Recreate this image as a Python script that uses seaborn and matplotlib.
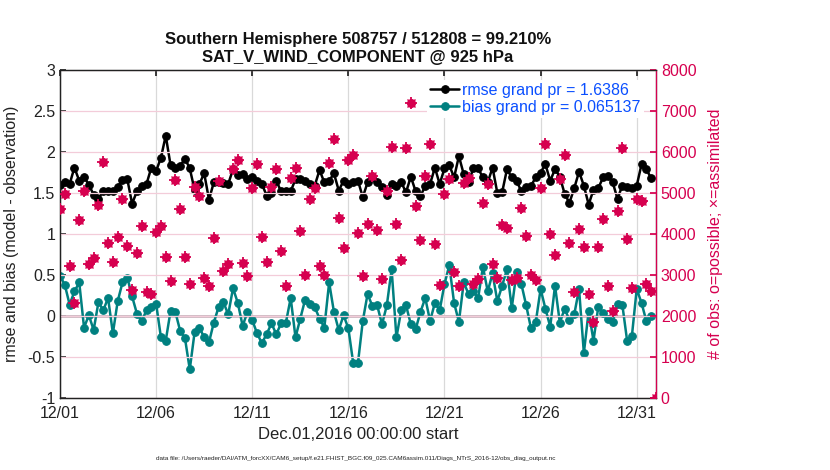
import numpy as np
import pandas as pd
import seaborn as sns
import matplotlib
matplotlib.use("Agg")
import matplotlib.pyplot as plt
import matplotlib.dates as mdates

# 6-hourly values
rmse = [1.60, 1.63, 1.61, 1.81, 1.65, 1.70, 1.60, 1.48, 1.43, 1.53, 1.52, 1.52, 1.57, 1.66, 1.67, 1.37,
        1.52, 1.58, 1.61, 1.81, 1.77, 1.93, 2.20, 1.84, 1.81, 1.83, 1.92, 1.80, 1.54, 1.61, 1.74, 1.42,
        1.63, 1.63, 1.62, 1.61, 1.79, 1.72, 1.73, 1.67, 1.70, 1.65, 1.61, 1.47, 1.50, 1.65, 1.52, 1.52,
        1.52, 1.67, 1.67, 1.65, 1.61, 1.59, 1.78, 1.63, 1.65, 1.74, 1.53, 1.65, 1.61, 1.63, 1.65, 1.45,
        1.63, 1.69, 1.63, 1.57, 1.48, 1.61, 1.59, 1.63, 1.51, 1.70, 1.52, 1.46, 1.59, 1.61, 1.81, 1.61,
        1.80, 1.84, 1.69, 1.95, 1.73, 1.63, 1.80, 1.80, 1.69, 1.63, 1.81, 1.50, 1.51, 1.79, 1.69, 1.65,
        1.52, 1.57, 1.59, 1.69, 1.75, 1.85, 1.65, 1.79, 1.70, 1.49, 1.38, 1.56, 1.76, 1.59, 1.36, 1.54,
        1.56, 1.69, 1.71, 1.63, 1.43, 1.59, 1.57, 1.56, 1.59, 1.85, 1.79, 1.68]
bias = [0.49, 0.38, 0.14, 0.30, 0.41, -0.14, 0.01, -0.17, 0.17, 0.07, 0.22, -0.21, 0.18, 0.41, 0.47, 0.24,
        0.03, -0.06, 0.07, 0.11, 0.15, -0.26, -0.30, 0.06, 0.05, -0.18, -0.27, -0.65, -0.20, -0.14, -0.26, -0.32,
        -0.08, 0.11, 0.17, 0.02, 0.34, 0.16, -0.12, 0.05, -0.05, -0.21, -0.33, -0.22, -0.09, -0.22, -0.09, -0.08,
        0.22, -0.26, -0.03, 0.20, 0.15, 0.11, -0.03, -0.14, 0.41, 0.05, -0.17, 0.01, -0.15, -0.57, -0.57, -0.06,
        0.27, 0.12, 0.13, -0.10, 0.13, 0.57, -0.26, 0.07, 0.13, -0.10, -0.16, 0.05, 0.22, -0.06, 0.16, 0.07,
        0.39, 0.62, 0.16, -0.07, 0.41, 0.27, 0.30, 0.22, 0.60, 0.30, 0.52, 0.18, 0.37, 0.57, 0.10, 0.54,
        0.39, 0.13, -0.15, -0.07, 0.33, 0.09, -0.13, 0.37, -0.08, 0.09, -0.05, 0.02, 0.33, -0.45, 0.06, -0.30,
        0.11, 0.04, -0.03, -0.07, 0.15, 0.14, -0.30, -0.24, 0.33, 0.16, -0.06, 0.00]
nobs = [4602, 4984, 3220, 2309, 4333, 5049, 3260, 3407, 4699, 5748, 3772, 3317, 3935, 4846, 3707, 2626,
        3528, 4203, 2585, 2528, 4057, 4203, 3447, 2854, 5317, 4618, 3447, 2789, 5146, 4927, 2919, 2732,
        3911, 5293, 3098, 3260, 5577, 5797, 3301, 2976, 5114, 5715, 3935, 3325, 5154, 5577, 3585, 2732,
        5358, 5602, 4073, 3000, 4846, 5130, 3220, 3000, 5740, 6309, 4382, 3667, 5805, 5927, 4033, 2976,
        4252, 5415, 4089, 2894, 5049, 6130, 4236, 3358, 6106, 7203, 4683, 3846, 5415, 6203, 3764, 2756,
        4967, 5333, 3081, 2732, 5252, 5374, 2772, 2894, 4764, 5211, 3260, 2935, 4220, 4154, 2878, 2919,
        4642, 3951, 3000, 2878, 5114, 6203, 3992, 3480, 5333, 5927, 3789, 2593, 4114, 3683, 2528, 1854,
        3683, 4358, 2732, 2122, 4561, 6106, 3870, 2691, 4846, 4805, 2789, 2610, 0]

rmse_grand = 1.6386
bias_grand = 0.065137
title_lines = ["Southern Hemisphere 508757 / 512808 = 99.210%", "SAT_V_WIND_COMPONENT @ 925 hPa"]
tick_days = ["2016-12-01", "2016-12-06", "2016-12-11", "2016-12-16", "2016-12-21", "2016-12-26", "2016-12-31"]
data_file = ("data file: /Users/raeder/DAI/ATM_forcXX/CAM6_setup/f.e21.FHIST_BGC.f09_025.CAM6assim.011/"
             "Diags_NTrS_2016-12/obs_diag_output.nc")

MAGENTA = "#d6004f"
TEAL = "#008080"
BLUE = "#0a4fff"

times = pd.date_range("2016-12-01", periods=len(rmse), freq="6h")
obs_times = pd.date_range("2016-12-01", periods=len(nobs), freq="6h")
df = pd.DataFrame({"time": times, "rmse": rmse, "bias": bias})
obs_df = pd.DataFrame({"time": obs_times, "nobs": nobs})

sns.set_theme(style="white")
plt.rcParams["font.family"] = ["Liberation Sans", "DejaVu Sans"]

fig = plt.figure(figsize=(8.3, 4.7), dpi=100)
ax = fig.add_axes([0.0723, 0.153, 0.718, 0.698])
ax2 = ax.twinx()

# right axis: observation counts (possible = circle, assimilated = cross) + pink grid
ax2.set_ylim(0, 8000)
ax2.set_yticks(np.arange(0, 8001, 1000))
ax2.grid(axis="y", color="#f3ccd9", lw=0.9)
ax2.set_axisbelow(True)
ax2.plot(obs_df["time"], obs_df["nobs"], "o", color=MAGENTA, ms=5.5, zorder=3)
ax2.plot(obs_df["time"], obs_df["nobs"], "+", color=MAGENTA, ms=8, mew=1.3, zorder=3)
ax2.plot(obs_df["time"], obs_df["nobs"], "x", color=MAGENTA, ms=5.5, mew=1.0, zorder=3)

# left axis: rmse and bias
ax.set_ylim(-1, 3)
ax.set_yticks(np.arange(-1, 3.01, 0.5))
ax.set_yticklabels(["-1", "-0.5", "0", "0.5", "1", "1.5", "2", "2.5", "3"])
ax.grid(axis="x", color="#d9d9d9", lw=0.9)
ax.axhline(0, color="#cbb6be", lw=2, zorder=1)
sns.lineplot(data=df, x="time", y="rmse", ax=ax, color="black", lw=1.8, marker="o", ms=5.5,
             mec="black", label=f"rmse grand pr = {rmse_grand}", zorder=4)
sns.lineplot(data=df, x="time", y="bias", ax=ax, color=TEAL, lw=1.8, marker="o", ms=5.5,
             mec=TEAL, label=f"bias grand pr = {bias_grand}", zorder=4)

ax.set_xlim(pd.Timestamp("2016-12-01"), pd.Timestamp("2017-01-01"))
ax.set_xticks(pd.to_datetime(tick_days))
ax.xaxis.set_major_formatter(mdates.DateFormatter("%m/%d"))

ax.set_zorder(ax2.get_zorder() - 1)
ax.patch.set_visible(False)
ax2.patch.set_visible(True)
ax2.patch.set_alpha(0)

for a in (ax, ax2):
    for s in a.spines.values():
        s.set_color("#222222")
        s.set_linewidth(0.9)
ax2.spines["right"].set_color(MAGENTA)

ax.tick_params(axis="both", direction="in", labelsize=11.5, colors="#222222", length=4,
               top=True, right=False)
ax.tick_params(axis="x", pad=6)
ax2.tick_params(axis="y", direction="in", labelsize=11.5, colors=MAGENTA, length=4)

ax.set_xlabel("Dec.01,2016 00:00:00 start", fontsize=12, color="#222222", labelpad=4)
ax.set_ylabel("rmse and bias (model - observation)", fontsize=11.5, color="#222222", labelpad=6)
ax2.set_ylabel("# of obs: o=possible; \u00d7=assimilated", fontsize=11.5, color=MAGENTA, labelpad=8)
ax.set_title("\n".join(title_lines), fontsize=12, fontweight="bold", color="#111111", pad=6,
             linespacing=1.2)

# legend goes on the top axes with a white box so the pink grid stays behind it
handles, labels = ax.get_legend_handles_labels()
ax.get_legend().remove()
leg = ax2.legend(handles, labels, loc="upper right", bbox_to_anchor=(0.993, 0.995), frameon=True,
                 facecolor="white", edgecolor="none", framealpha=1, fancybox=False, borderpad=0.2,
                 fontsize=11.5, handlelength=1.8, handletextpad=0.2, labelspacing=0.12)
for t in leg.get_texts():
    t.set_color(BLUE)
leg.set_zorder(10)

fig.text(0.429, 0.022, data_file, fontsize=4.6, ha="center", color="#222222")

fig.savefig("out.png", dpi=100)
